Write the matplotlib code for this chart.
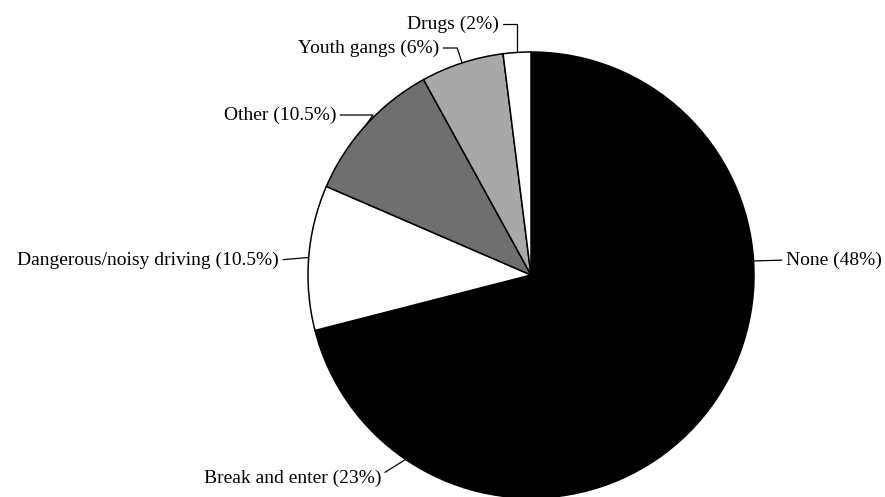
import numpy as np
import matplotlib
matplotlib.use("Agg")
import matplotlib.pyplot as plt

plt.rcParams["font.family"] = ["Liberation Serif", "DejaVu Serif"]

# ---- data ----
labels = ["None", "Break and enter", "Dangerous/noisy driving", "Other", "Youth gangs", "Drugs"]
shares = [48, 23, 10.5, 10.5, 6, 2]
fills = ["black", "black", "white", "#6f6f6f", "#a8a8a8", "white"]

# ---- layout (pixel units, y measured from top) ----
W, H = 885, 497
CX, CY, R = 531, 275, 223
# text anchor x, text y, alignment, angle of the segment meeting the pie (None = straight)
label_pos = [
    (786, 260, "left", None),
    (381, 478, "right", 32),
    (279, 260, "right", None),
    (336, 115, "right", 55),
    (439, 48, "right", 108),
    (499, 24, "right", 90),
]

fig = plt.figure(figsize=(W / 100, H / 100), dpi=100)
ax = fig.add_axes([0, 0, 1, 1])
ax.set_xlim(0, W)
ax.set_ylim(0, H)
ax.set_aspect("equal")
ax.axis("off")

wedges, _ = ax.pie(shares, colors=fills, startangle=90, counterclock=False,
                   center=(CX, H - CY), radius=R,
                   wedgeprops=dict(edgecolor="black", linewidth=1.1))
ax.set_xlim(0, W)
ax.set_ylim(0, H)

for w, name, v, (tx, ty, ha, angB) in zip(wedges, labels, shares, label_pos):
    mid = np.deg2rad((w.theta1 + w.theta2) / 2)
    px = CX + R * np.cos(mid)
    py = (H - CY) + R * np.sin(mid)
    if angB is None:
        conn = "arc3"
    else:
        conn = f"angle,angleA=0,angleB={angB},rad=0"
    ax.annotate(f"{name} ({v:g}%)", xy=(px, py), xytext=(tx, H - ty),
                ha=ha, va="center", fontsize=14,
                arrowprops=dict(arrowstyle="-", color="black", lw=0.9,
                                connectionstyle=conn,
                                relpos=(0, 0.5) if ha == "left" else (1, 0.5),
                                shrinkA=1, shrinkB=0))

fig.savefig("out.png", dpi=100, facecolor="white")
